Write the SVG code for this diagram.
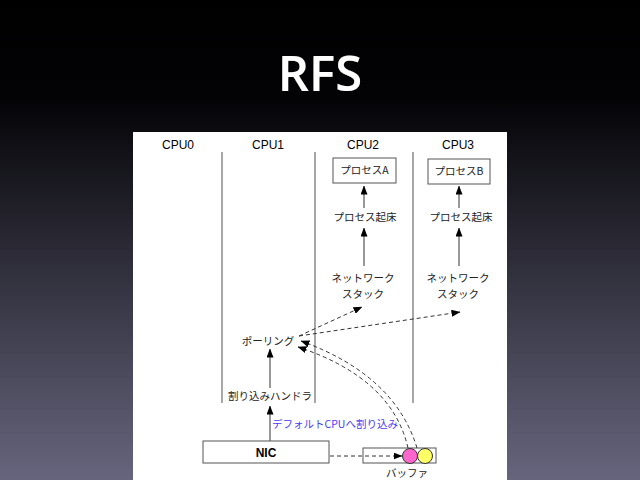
<svg xmlns="http://www.w3.org/2000/svg" width="640" height="480" viewBox="0 0 640 480">
  <defs>
    <linearGradient id="bg" x1="0" y1="0" x2="0" y2="1">
      <stop offset="0" stop-color="#000000"/>
      <stop offset="0.2" stop-color="#030306"/>
      <stop offset="1" stop-color="#67657d"/>
    </linearGradient>
    <marker id="ah" markerWidth="9" markerHeight="7" refX="8.5" refY="3.5" orient="auto" markerUnits="userSpaceOnUse">
      <path d="M0,0 L9,3.5 L0,7 Z" fill="#000"/>
    </marker>
    <filter id="glow" x="-20%" y="-20%" width="140%" height="140%">
      <feGaussianBlur in="SourceAlpha" stdDeviation="1.5" result="b"/>
      <feOffset dx="0" dy="1" in="b" result="o"/>
      <feMerge><feMergeNode in="o"/><feMergeNode in="SourceGraphic"/></feMerge>
    </filter>
    <style>
      .hdr { font-family: "Liberation Sans", Arial, sans-serif; font-size: 12px; fill: #000; text-anchor: middle; }
      .jp { font-family: "Noto Sans CJK JP", "Noto Sans", sans-serif; font-size: 10.5px; fill: #222; text-anchor: middle; }
      .col { stroke: #777; stroke-width: 1.3; }
      .box { fill: #fff; stroke: #555; stroke-width: 1; }
      .solid { stroke: #555; stroke-width: 1.2; fill: none; marker-end: url(#ah); }
      .dasha { stroke: #333; stroke-width: 1; stroke-dasharray: 4 3; fill: none; marker-end: url(#ah); }
    </style>
  </defs>

  <rect x="0" y="0" width="640" height="480" fill="url(#bg)"/>
  <text x="320" y="91" text-anchor="middle" font-family="'Open Sans', 'Liberation Sans', sans-serif" font-size="49" font-weight="600" fill="#fff" filter="url(#glow)">RFS</text>

  <rect x="133" y="132" width="374" height="350" fill="#fff"/>

  <g id="columns">
    <line class="col" x1="222" y1="152" x2="222" y2="403"/>
    <line class="col" x1="315" y1="152" x2="315" y2="403"/>
    <line class="col" x1="413" y1="152" x2="413" y2="403"/>
  </g>

  <g id="headers">
    <text class="hdr" x="178" y="149">CPU0</text>
    <text class="hdr" x="268" y="149">CPU1</text>
    <text class="hdr" x="363" y="149">CPU2</text>
    <text class="hdr" x="458" y="149">CPU3</text>
  </g>

  <g id="procA">
    <rect class="box" x="333" y="158" width="63" height="25"/>
    <text class="jp" x="364.5" y="174">プロセスA</text>
  </g>
  <g id="procB">
    <rect class="box" x="428" y="159" width="62" height="25"/>
    <text class="jp" x="459" y="175">プロセスB</text>
  </g>
  <g id="wake2"><text class="jp" x="365" y="221">プロセス起床</text></g>
  <g id="wake3"><text class="jp" x="461" y="221">プロセス起床</text></g>
  <g id="stack2"><text class="jp" x="363" y="282">ネットワーク</text><text class="jp" x="363" y="298">スタック</text></g>
  <g id="stack3"><text class="jp" x="458" y="282">ネットワーク</text><text class="jp" x="458" y="298">スタック</text></g>
  <g id="polling"><text class="jp" x="268" y="345">ポーリング</text></g>
  <g id="handler"><text class="jp" x="270" y="400">割り込みハンドラ</text></g>
  <g id="label"><text x="272" y="428" font-family="'Noto Sans CJK JP', 'Noto Sans', sans-serif" font-size="10.5" fill="#4a3cf5">デフォルトCPUへ割り込み</text></g>
  <g id="nic">
    <rect class="box" x="203" y="441" width="126" height="22"/>
    <text x="266" y="457" text-anchor="middle" font-family="'Liberation Sans', Arial, sans-serif" font-size="12" font-weight="bold" fill="#000">NIC</text>
  </g>
  <g id="buffer">
    <rect class="box" x="363" y="448" width="73" height="15"/>
    <circle cx="410" cy="456" r="7.5" fill="#ff66cc" stroke="#333" stroke-width="1"/>
    <circle cx="425" cy="456" r="7.5" fill="#ffff66" stroke="#333" stroke-width="1"/>
    <text class="jp" x="407" y="477">バッファ</text>
  </g>

  <g id="connectors">
    <line class="solid" x1="364" y1="208" x2="364" y2="186"/>
    <line class="solid" x1="459" y1="208" x2="459" y2="186"/>
    <line class="solid" x1="364" y1="266" x2="364" y2="228"/>
    <line class="solid" x1="459" y1="266" x2="459" y2="228"/>
    <line class="solid" x1="270" y1="388" x2="270" y2="349"/>
    <line class="solid" x1="270" y1="441" x2="270" y2="406"/>
    <line class="dasha" x1="330" y1="456" x2="402" y2="456"/>
    <line class="dasha" x1="299" y1="336" x2="362" y2="307"/>
    <line class="dasha" x1="299" y1="336" x2="460" y2="312"/>
    <path class="dasha" d="M417,448 Q395,375 301,341"/>
    <path class="dasha" d="M408,448 Q392,378 298,347"/>
  </g>
</svg>
